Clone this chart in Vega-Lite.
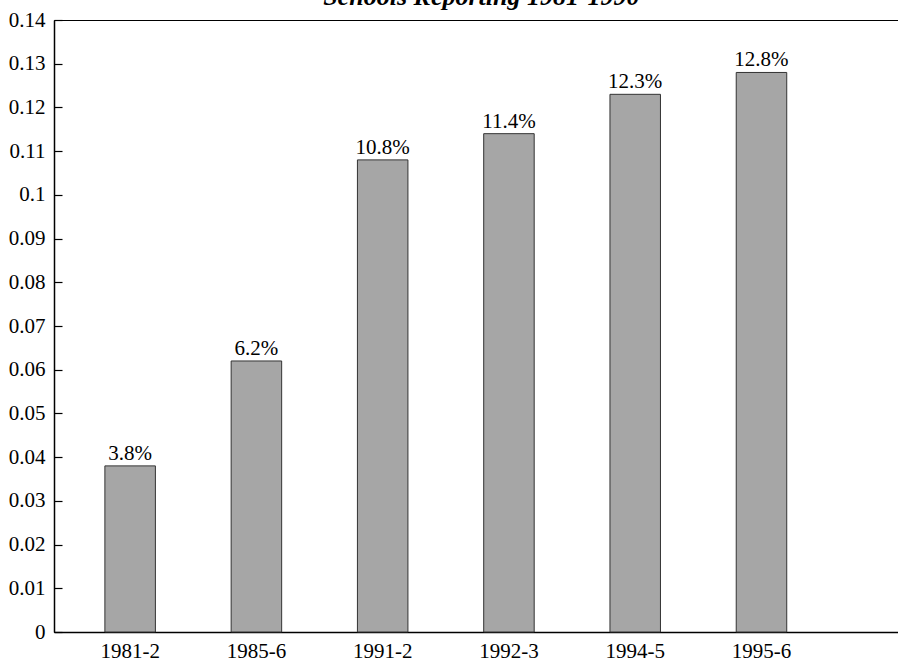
{
  "$schema": "https://vega.github.io/schema/vega-lite/v6.json",
  "width": 846,
  "height": 612,
  "autosize": {"type": "none"},
  "padding": {"left": 54, "top": 20, "right": 0, "bottom": 32},
  "background": "white",
  "title": {
    "text": "Schools Reporting 1981-1990",
    "font": "Liberation Serif, Times New Roman, serif",
    "fontSize": 26,
    "fontWeight": "bold",
    "fontStyle": "italic",
    "color": "black",
    "anchor": "start",
    "dx": 315,
    "baseline": "alphabetic",
    "dy": 26
  },
  "config": {
    "view": {"stroke": "black", "strokeWidth": 1},
    "font": "Liberation Serif, Times New Roman, serif"
  },
  "data": {
    "values": [
      {"year": "1981-2", "share": 0.038, "label": "3.8%"},
      {"year": "1985-6", "share": 0.062, "label": "6.2%"},
      {"year": "1991-2", "share": 0.108, "label": "10.8%"},
      {"year": "1992-3", "share": 0.114, "label": "11.4%"},
      {"year": "1994-5", "share": 0.123, "label": "12.3%"},
      {"year": "1995-6", "share": 0.128, "label": "12.8%"}
    ]
  },
  "encoding": {
    "x": {
      "field": "year",
      "type": "nominal",
      "sort": null,
      "scale": {"paddingInner": 0.6, "paddingOuter": 0.65, "align": 0.31},
      "axis": {
        "title": null,
        "labelAngle": 0,
        "labelFont": "Liberation Serif, Times New Roman, serif",
        "labelFontSize": 21,
        "labelColor": "black",
        "labelPadding": 8,
        "ticks": false,
        "domainColor": "black",
        "domainWidth": 1.5
      }
    },
    "y": {
      "field": "share",
      "type": "quantitative",
      "scale": {"domain": [0, 0.14], "nice": false},
      "axis": {
        "title": null,
        "values": [0, 0.01, 0.02, 0.03, 0.04, 0.05, 0.06, 0.07, 0.08, 0.09, 0.1, 0.11, 0.12, 0.13, 0.14],
        "format": ".2~f",
        "grid": false,
        "labelFont": "Liberation Serif, Times New Roman, serif",
        "labelFontSize": 21,
        "labelColor": "black",
        "labelPadding": 17,
        "tickSize": -8,
        "tickColor": "black",
        "tickWidth": 1.2,
        "domainColor": "black",
        "domainWidth": 1.5
      }
    }
  },
  "layer": [
    {
      "mark": {"type": "bar", "fill": "#a6a6a6", "stroke": "#333333", "strokeWidth": 1}
    },
    {
      "mark": {"type": "text", "baseline": "alphabetic", "dy": -6, "font": "Liberation Serif, Times New Roman, serif", "fontSize": 21, "color": "black"},
      "encoding": {"text": {"field": "label"}}
    }
  ]
}
